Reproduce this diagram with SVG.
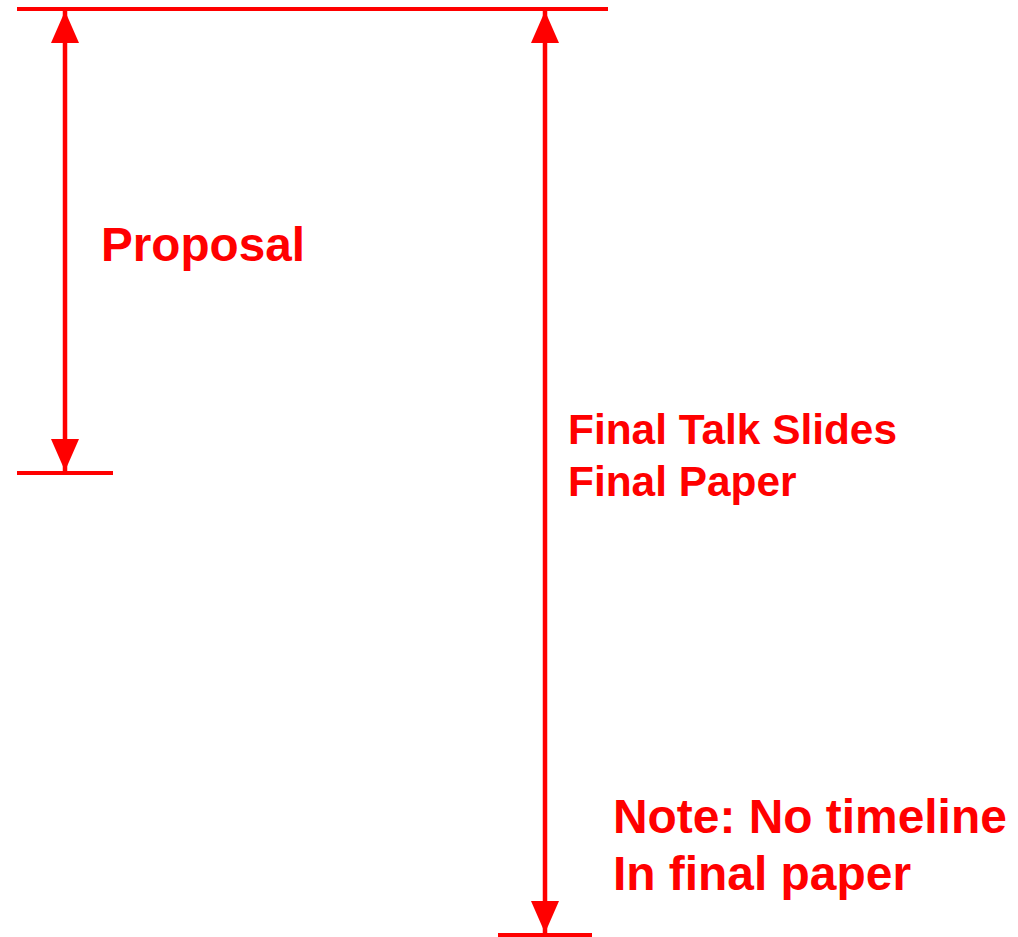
<svg xmlns="http://www.w3.org/2000/svg" width="1018" height="937" viewBox="0 0 1018 937">
  <style>
    .rule { stroke: #ff0000; stroke-width: 4; fill: none; }
    .shaft { stroke: #ff0000; stroke-width: 4.5; fill: none; marker-start: url(#head); marker-end: url(#head); }
    .lbl { fill: #ff0000; font-family: "Liberation Sans", Arial, sans-serif; font-weight: bold; }
  </style>
  <defs>
    <marker id="head" viewBox="0 0 32 28" refX="32" refY="14" markerWidth="32" markerHeight="28" markerUnits="userSpaceOnUse" orient="auto-start-reverse">
      <path d="M0,0 L32,14 L0,28 Z" fill="#ff0000"/>
    </marker>
  </defs>
  <rect width="1018" height="937" fill="#ffffff"/>

  <!-- horizontal limit lines -->
  <g id="limits">
    <line class="rule" x1="17" y1="9" x2="608" y2="9"/>
    <line class="rule" x1="17" y1="473" x2="113" y2="473"/>
    <line class="rule" x1="498" y1="935" x2="592" y2="935"/>
  </g>

  <!-- span arrows -->
  <g id="connectors">
    <line class="shaft" x1="65" y1="11" x2="65" y2="471"/>
    <line class="shaft" x1="545" y1="11" x2="545" y2="933"/>
  </g>

  <g id="proposal">
    <text class="lbl" x="101" y="261" font-size="47.7">Proposal</text>
  </g>
  <g id="final">
    <text class="lbl" x="568" y="444" font-size="42.4">Final Talk Slides</text>
    <text class="lbl" x="568" y="496" font-size="42.4">Final Paper</text>
  </g>
  <g id="note">
    <text class="lbl" x="613" y="833" font-size="47.9">Note: No timeline</text>
    <text class="lbl" x="613" y="890" font-size="47.9">In final paper</text>
  </g>
</svg>
